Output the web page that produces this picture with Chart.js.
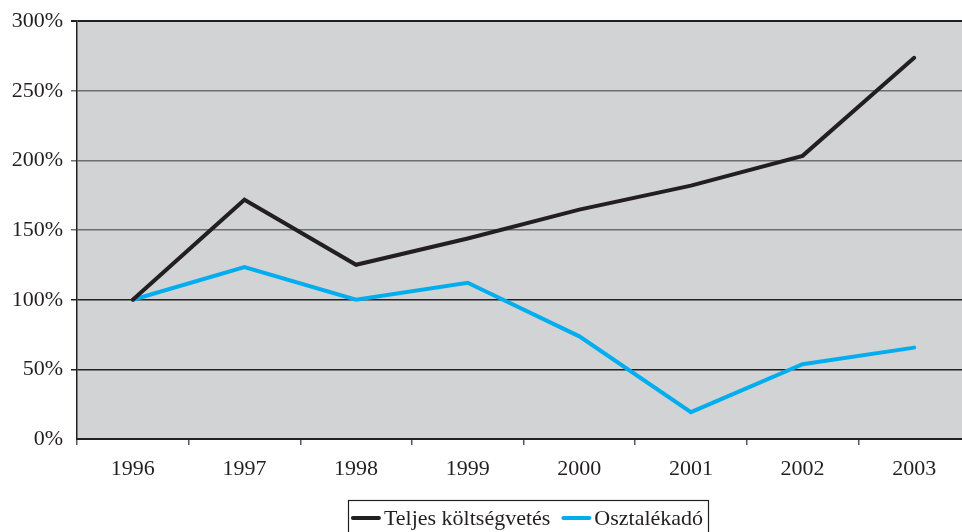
<!DOCTYPE html>
<html>
<head>
<meta charset="utf-8">
<script src="https://cdn.jsdelivr.net/npm/chart.js@4.4.0/dist/chart.umd.min.js"></script>
<style>
  html, body { margin: 0; padding: 0; background: #ffffff; overflow: hidden; }
  #wrap { width: 970px; height: 532px; }
</style>
</head>
<body>
<div id="wrap"><canvas id="c" width="970" height="532"></canvas></div>
<script>
// Years on the category axis
const years = ['1996', '1997', '1998', '1999', '2000', '2001', '2002', '2003'];
// Index values, 1996 = 100%
const teljesKoltsegvetes = [100, 171.8, 125.1, 144, 164.7, 181.9, 203.3, 273.7];
const osztalekado = [100, 123.4, 100, 112.2, 73.7, 19.3, 53.7, 65.6];
// Series names shown in the legend
const seriesNames = ['Teljes költségvetés', 'Osztalékadó'];
const seriesColors = ['#231f20', '#00aeef'];

const FONT = '"Liberation Serif", "Times New Roman", serif';

// Grey plot background behind the lines
const plotBackground = {
  id: 'plotBackground',
  beforeDraw(chart) {
    const { ctx, chartArea: a } = chart;
    ctx.save();
    ctx.fillStyle = '#d1d3d4';
    ctx.fillRect(a.left, a.top, a.right - a.left, a.bottom - a.top);
    ctx.restore();
  }
};

// Boxed legend under the axis
const boxedLegend = {
  id: 'boxedLegend',
  afterDraw(chart) {
    const ctx = chart.ctx;
    ctx.save();
    ctx.font = '22px ' + FONT;
    const swatch = 28, gap = 4, between = 12, padL = 4, padR = 5;
    const widths = seriesNames.map(n => ctx.measureText(n).width);
    let total = padL + padR;
    widths.forEach((w, i) => { total += swatch + gap + w + (i ? between : 0); });
    const centerX = 528, top = 500, midY = 518;
    let x = centerX - total / 2;
    ctx.strokeStyle = '#231f20';
    ctx.lineWidth = 1.2;
    ctx.strokeRect(Math.round(x) + 0.5, top + 0.5, Math.round(total), 50);
    x += padL;
    ctx.textBaseline = 'middle';
    ctx.textAlign = 'left';
    seriesNames.forEach((name, i) => {
      if (i) x += between;
      ctx.strokeStyle = seriesColors[i];
      ctx.lineWidth = 4;
      ctx.lineCap = 'round';
      ctx.beginPath();
      ctx.moveTo(x + 1, midY);
      ctx.lineTo(x + swatch - 1, midY);
      ctx.stroke();
      x += swatch + gap;
      ctx.fillStyle = '#231f20';
      ctx.fillText(name, x, midY + 1);
      x += widths[i];
    });
    ctx.restore();
  }
};

new Chart(document.getElementById('c'), {
  type: 'line',
  data: {
    labels: years,
    datasets: [
      { label: seriesNames[0], data: teljesKoltsegvetes, borderColor: seriesColors[0], backgroundColor: seriesColors[0] },
      { label: seriesNames[1], data: osztalekado, borderColor: seriesColors[1], backgroundColor: seriesColors[1] }
    ]
  },
  options: {
    responsive: false,
    devicePixelRatio: 1,
    animation: false,
    layout: { padding: { top: 20, left: 0, right: 0, bottom: 0 } },
    elements: {
      line: { borderWidth: 4, tension: 0, borderCapStyle: 'round', borderJoinStyle: 'miter' },
      point: { radius: 0, hoverRadius: 0 }
    },
    plugins: { legend: { display: false }, tooltip: { enabled: false } },
    scales: {
      x: {
        offset: true,
        afterFit(scale) { scale.height = 93; },
        grid: { display: true, offset: true, drawOnChartArea: false, drawTicks: true, tickLength: 6, color: '#58595b', lineWidth: 1.5 },
        border: { display: true, color: '#231f20', width: 2 },
        ticks: { color: '#231f20', font: { family: FONT, size: 22 }, padding: 11, maxRotation: 0 }
      },
      y: {
        min: 0,
        max: 300,
        afterFit(scale) { scale.width = 77; },
        grid: {
          drawTicks: true,
          tickLength: 6,
          color(c) {
            const v = c.tick ? c.tick.value : 0;
            if (v === 0) return 'rgba(0,0,0,0)';
            if (v === 300) return '#231f20';
            return v <= 100 ? '#231f20' : '#6d6e71';
          },
          lineWidth(c) {
            const v = c.tick ? c.tick.value : 0;
            return v === 300 ? 2 : 1.5;
          }
        },
        border: { display: true, color: '#231f20', width: 1.5 },
        ticks: {
          stepSize: 50,
          color: '#231f20',
          font: { family: FONT, size: 22 },
          padding: 8,
          callback: v => v + '%'
        }
      }
    }
  },
  plugins: [plotBackground, boxedLegend]
});
</script>
</body>
</html>
